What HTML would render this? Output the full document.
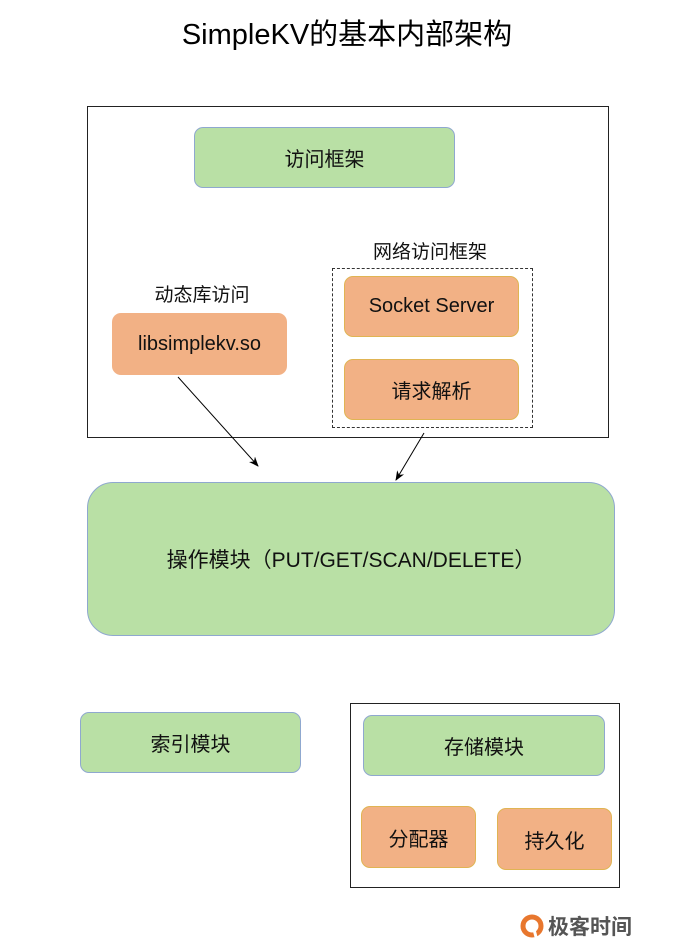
<!DOCTYPE html>
<html><head><meta charset="utf-8"><style>
body{margin:0;width:694px;height:945px;background:#fff;position:relative;font-family:"Liberation Sans","Noto Sans CJK SC",sans-serif;overflow:hidden}
.a{position:absolute;box-sizing:border-box;display:flex;align-items:center;justify-content:center;color:#111}
.g{background:#b9e0a5;border:1.5px solid #8fa8cf;border-radius:9px;font-size:20px}
.o{background:#f2b185;border:1.5px solid #e0b453;border-radius:9px;font-size:20px}
.t{font-size:19px}
</style></head><body>
<div class="a" style="left:0;top:10px;width:694px;height:44px;font-size:29px;color:#000">SimpleKV的基本内部架构</div>
<div class="a" style="left:87px;top:106px;width:522px;height:332px;border:1.5px solid #222"></div>
<div class="a g" style="left:194px;top:127px;width:261px;height:61px">访问框架</div>
<div class="a t" style="left:330px;top:236px;width:200px;height:28px">网络访问框架</div>
<div class="a" style="left:332px;top:268px;width:201px;height:160px;border:1.5px dashed #333"></div>
<div class="a o" style="left:344px;top:276px;width:175px;height:61px">Socket Server</div>
<div class="a o" style="left:344px;top:359px;width:175px;height:61px">请求解析</div>
<div class="a t" style="left:112px;top:279px;width:180px;height:28px">动态库访问</div>
<div class="a o" style="left:112px;top:313px;width:175px;height:62px;border:none">libsimplekv.so</div>
<div class="a g" style="left:87px;top:482px;width:528px;height:154px;border-radius:26px;font-size:21px">操作模块（PUT/GET/SCAN/DELETE）</div>
<div class="a g" style="left:80px;top:712px;width:221px;height:61px">索引模块</div>
<div class="a" style="left:350px;top:703px;width:270px;height:185px;border:1.5px solid #222"></div>
<div class="a g" style="left:363px;top:715px;width:242px;height:61px">存储模块</div>
<div class="a o" style="left:361px;top:806px;width:115px;height:62px">分配器</div>
<div class="a o" style="left:497px;top:808px;width:115px;height:62px">持久化</div>
<svg style="position:absolute;left:0;top:0" width="694" height="945">
<defs><marker id="m" markerWidth="10" markerHeight="10" refX="9" refY="5" orient="auto" markerUnits="userSpaceOnUse"><path d="M0,1 L10,5 L0,9 L3,5 z" fill="#000"/></marker></defs>
<line x1="178" y1="377" x2="258" y2="466" stroke="#000" stroke-width="1" marker-end="url(#m)"/>
<line x1="424" y1="433" x2="396" y2="480" stroke="#000" stroke-width="1" marker-end="url(#m)"/>
<circle cx="532" cy="926" r="9" fill="none" stroke="#e8772e" stroke-width="5"/>
<path d="M532 922 L536 937" stroke="#fff" stroke-width="3"/>
</svg>
<div class="a" style="left:548px;top:912px;width:110px;height:28px;font-size:21px;color:#555;justify-content:flex-start;font-weight:bold">极客时间</div>
</body></html>
